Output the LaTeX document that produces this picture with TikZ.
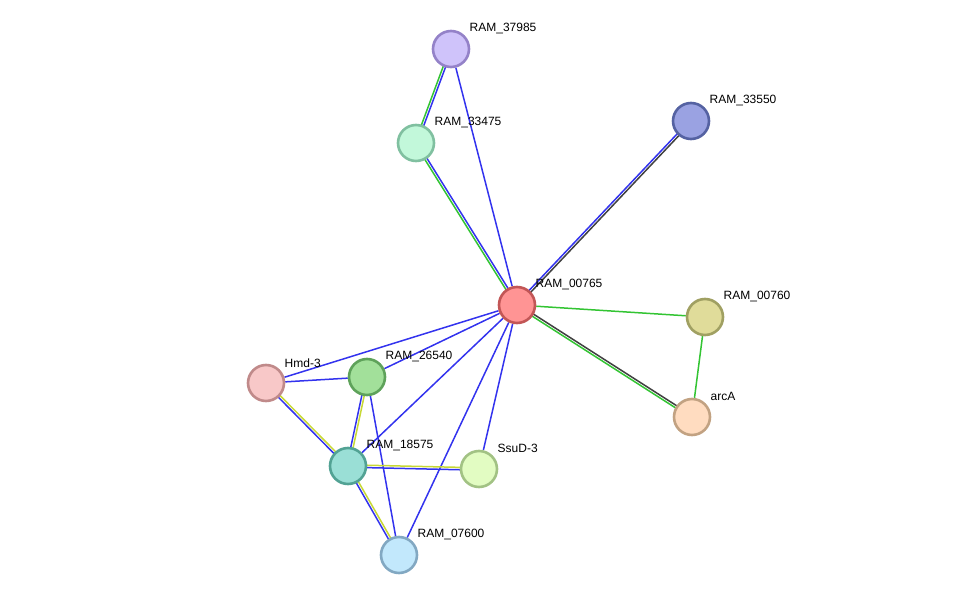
\documentclass[tikz,border=0pt]{standalone}
\usepackage{fontspec}
\setmainfont{Liberation Sans}
\usetikzlibrary{calc,backgrounds}

\definecolor{linkblue}{HTML}{3333EE}
\definecolor{linkgreen}{HTML}{33C433}
\definecolor{linkgray}{HTML}{404040}
\definecolor{linkyellow}{HTML}{C8D834}

% protein fills and rims
\definecolor{f37985}{HTML}{CFC3FA}\definecolor{d37985}{HTML}{9482C8}
\definecolor{f33475}{HTML}{C2F8DA}\definecolor{d33475}{HTML}{80C0A0}
\definecolor{f33550}{HTML}{9AA2E2}\definecolor{d33550}{HTML}{5562A2}
\definecolor{f00765}{HTML}{FF9494}\definecolor{d00765}{HTML}{C25656}
\definecolor{f00760}{HTML}{E0DC9A}\definecolor{d00760}{HTML}{A0A062}
\definecolor{farcA}{HTML}{FFDCC0}\definecolor{darcA}{HTML}{C2A282}
\definecolor{fhmd}{HTML}{F8C8C8}\definecolor{dhmd}{HTML}{C08A8A}
\definecolor{f26540}{HTML}{A2E09A}\definecolor{d26540}{HTML}{5EA25A}
\definecolor{f18575}{HTML}{9ADFD6}\definecolor{d18575}{HTML}{52A294}
\definecolor{fssud}{HTML}{E2FCC2}\definecolor{dssud}{HTML}{A2C284}
\definecolor{f07600}{HTML}{C2E8FC}\definecolor{d07600}{HTML}{82A8C2}

\newcommand\pairlink[4]{%
  \draw[link,#3] ($(#1)!1.2pt!90:(#2)$) -- ($(#2)!1.2pt!-90:(#1)$);
  \draw[link,#4] ($(#1)!1.2pt!-90:(#2)$) -- ($(#2)!1.2pt!90:(#1)$);}

\begin{document}
\begin{tikzpicture}[x=1pt,y=-1pt,
    prot/.style 2 args={circle,minimum size=36pt,inner sep=0pt,line width=2.6pt,fill=#1,draw=#2},
    tag/.style={label={[anchor=west,font=\fontsize{12}{14}\selectfont,xshift=1.5pt,yshift=6.5pt]north east:#1}},
    link/.style={line width=1.5pt}]
    \useasboundingbox (0,0) rectangle (975,601);

    % Proteins
    \node[prot={f37985}{d37985},tag=RAM\_37985] (r37985) at (451,49) {};
    \node[prot={f33475}{d33475},tag=RAM\_33475] (r33475) at (416,143) {};
    \node[prot={f33550}{d33550},tag=RAM\_33550] (r33550) at (691,121) {};
    \node[prot={f00765}{d00765},tag=RAM\_00765] (r00765) at (517,305) {};
    \node[prot={f00760}{d00760},tag=RAM\_00760] (r00760) at (705,317) {};
    \node[prot={farcA}{darcA},tag=arcA] (arcA) at (692,417) {};
    \node[prot={fhmd}{dhmd},tag=Hmd-3] (hmd3) at (266,383) {};
    \node[prot={f26540}{d26540},tag=RAM\_26540] (r26540) at (367,377) {};
    \node[prot={f18575}{d18575},tag=RAM\_18575] (r18575) at (348,466) {};
    \node[prot={fssud}{dssud},tag=SsuD-3] (ssud3) at (479,469) {};
    \node[prot={f07600}{d07600},tag=RAM\_07600] (r07600) at (399,555) {};

    % Interactions
    \begin{scope}[on background layer]
        \pairlink{r37985}{r33475}{linkblue}{linkgreen}
        \draw[link,linkblue] (r37985) -- (r00765);
        \pairlink{r33475}{r00765}{linkblue}{linkgreen}
        \pairlink{r33550}{r00765}{linkgray}{linkblue}
        \draw[link,linkgreen] (r00765) -- (r00760);
        \pairlink{r00765}{arcA}{linkgray}{linkgreen}
        \draw[link,linkgreen] (r00760) -- (arcA);
        \draw[link,linkblue] (r00765) -- (hmd3);
        \draw[link,linkblue] (r00765) -- (r26540);
        \draw[link,linkblue] (r00765) -- (r18575);
        \draw[link,linkblue] (r00765) -- (ssud3);
        \draw[link,linkblue] (r00765) -- (r07600);
        \draw[link,linkblue] (hmd3) -- (r26540);
        \pairlink{hmd3}{r18575}{linkyellow}{linkblue}
        \pairlink{r26540}{r18575}{linkyellow}{linkblue}
        \draw[link,linkblue] (r26540) -- (r07600);
        \pairlink{r18575}{ssud3}{linkyellow}{linkblue}
        \pairlink{r18575}{r07600}{linkyellow}{linkblue}
    \end{scope}
\end{tikzpicture}
\end{document}
